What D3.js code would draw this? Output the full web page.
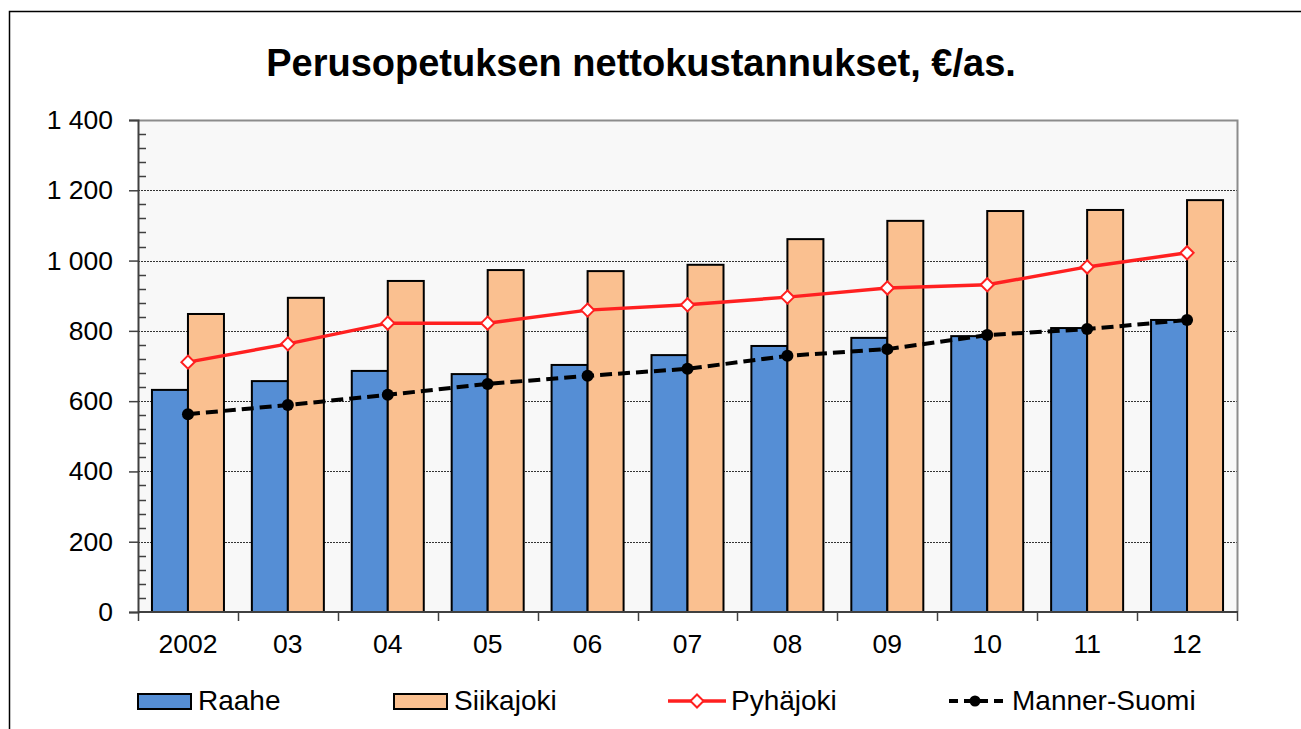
<!DOCTYPE html>
<html>
<head>
<meta charset="utf-8">
<script src="https://cdn.jsdelivr.net/npm/d3@7"></script>
<style>
  body { margin: 0; background: #fff; }
  text { font-family: "Liberation Sans", Arial, sans-serif; fill: #000; }
</style>
</head>
<body>
<script>
// chart data
var years = ["2002", "03", "04", "05", "06", "07", "08", "09", "10", "11", "12"];
var raahe = [632, 657, 686, 677, 703, 731, 757, 780, 785, 808, 831];
var siikajoki = [848, 894, 942, 973, 970, 988, 1061, 1113, 1141, 1144, 1172];
var pyhajoki = [711, 763, 822, 822, 859, 874, 896, 922, 931, 982, 1022];
var mannerSuomi = [563, 589, 618, 649, 672, 692, 729, 748, 788, 805, 831];
var yTicks = [0, 200, 400, 600, 800, 1000, 1200, 1400];

var W = 1301, H = 729;
var pLeft = 138, pRight = 1237, pTop = 120, pBottom = 612;

var svg = d3.select("body").append("svg")
  .attr("width", W).attr("height", H);

// outer frame (only left and top visible)
svg.append("path")
  .attr("d", "M9.5," + H + " V11.5 H" + W)
  .attr("fill", "none").attr("stroke", "#000").attr("stroke-width", 1.5);

// title
svg.append("text")
  .attr("x", 641).attr("y", 76)
  .attr("text-anchor", "middle")
  .style("font-size", "38px").style("font-weight", "bold")
  .text("Perusopetuksen nettokustannukset, €/as.");

var x = d3.scaleBand().domain(years).range([pLeft, pRight]);
var y = d3.scaleLinear().domain([0, 1400]).range([pBottom, pTop]);

// plot background
svg.append("rect")
  .attr("x", pLeft).attr("y", pTop)
  .attr("width", pRight - pLeft).attr("height", pBottom - pTop)
  .attr("fill", "#f8f8f8");

// gridlines
svg.append("g").selectAll("line")
  .data(yTicks.filter(function(d){ return d > 0 && d < 1400; }))
  .enter().append("line")
  .attr("x1", pLeft).attr("x2", pRight)
  .attr("y1", function(d){ return Math.round(y(d)) + 0.5; })
  .attr("y2", function(d){ return Math.round(y(d)) + 0.5; })
  .attr("stroke", "#333").attr("stroke-width", 1)
  .attr("stroke-dasharray", "2,1");

// plot top/right border
svg.append("path")
  .attr("d", "M" + pLeft + "," + (pTop + 0.5) + " H" + (pRight + 0.5) + " V" + pBottom)
  .attr("fill", "none").attr("stroke", "#8c8c8c").attr("stroke-width", 2);

// bars
var barW = 36;
var groups = svg.append("g");
groups.selectAll(".raahe").data(raahe).enter().append("rect")
  .attr("class", "raahe")
  .attr("x", function(d, i){ return x(years[i]) + x.bandwidth()/2 - barW; })
  .attr("y", function(d){ return y(d); })
  .attr("width", barW)
  .attr("height", function(d){ return pBottom - y(d); })
  .attr("fill", "#558ed5").attr("stroke", "#000").attr("stroke-width", 2);

groups.selectAll(".siika").data(siikajoki).enter().append("rect")
  .attr("class", "siika")
  .attr("x", function(d, i){ return x(years[i]) + x.bandwidth()/2; })
  .attr("y", function(d){ return y(d); })
  .attr("width", barW)
  .attr("height", function(d){ return pBottom - y(d); })
  .attr("fill", "#fac090").attr("stroke", "#000").attr("stroke-width", 2);

// y axis
var yAxis = svg.append("g")
  .attr("transform", "translate(" + pLeft + ",0)")
  .call(d3.axisLeft(y).tickValues(yTicks).tickSize(9).tickPadding(16)
    .tickFormat(function(d){ return d3.format(",")(d).replace(",", " "); }));
yAxis.select(".domain").attr("stroke", "#404040").attr("stroke-width", 2);
yAxis.selectAll(".tick line").attr("stroke", "#404040").attr("stroke-width", 1.5);
yAxis.selectAll("text")
  .style("font-size", "26.5px").style("font-family", "Liberation Sans, Arial, sans-serif")
  .attr("fill", "#000");

// minor ticks
var minor = d3.range(0, 1401, 40).filter(function(d){ return d % 200 !== 0; });
svg.append("g").selectAll("line").data(minor).enter().append("line")
  .attr("x1", pLeft).attr("x2", pLeft + 8)
  .attr("y1", function(d){ return Math.round(y(d)) + 0.5; })
  .attr("y2", function(d){ return Math.round(y(d)) + 0.5; })
  .attr("stroke", "#404040").attr("stroke-width", 1.5);

// x axis
var boundaries = years.map(function(d){ return x(d); }).concat([pRight]);
svg.append("line")
  .attr("x1", pLeft).attr("x2", pRight + 1)
  .attr("y1", pBottom).attr("y2", pBottom)
  .attr("stroke", "#404040").attr("stroke-width", 2);
svg.append("g").selectAll("line").data(boundaries).enter().append("line")
  .attr("x1", function(d){ return Math.round(d) + 0.5; })
  .attr("x2", function(d){ return Math.round(d) + 0.5; })
  .attr("y1", pBottom).attr("y2", pBottom + 9)
  .attr("stroke", "#404040").attr("stroke-width", 1.5);
svg.append("g").selectAll("text").data(years).enter().append("text")
  .attr("x", function(d){ return x(d) + x.bandwidth()/2; })
  .attr("y", 653)
  .attr("text-anchor", "middle")
  .style("font-size", "26.5px")
  .text(function(d){ return d; });

// lines
var cx = function(d, i){ return x(years[i]) + x.bandwidth()/2; };
var line = d3.line().x(cx).y(function(d){ return y(d); });

svg.append("path").datum(mannerSuomi)
  .attr("d", line).attr("fill", "none")
  .attr("stroke", "#000").attr("stroke-width", 4)
  .attr("stroke-dasharray", "12,6");
svg.append("g").selectAll("circle").data(mannerSuomi).enter().append("circle")
  .attr("cx", cx).attr("cy", function(d){ return y(d); })
  .attr("r", 6).attr("fill", "#000");

svg.append("path").datum(pyhajoki)
  .attr("d", line).attr("fill", "none")
  .attr("stroke", "#ff2020").attr("stroke-width", 3.5);
var diamond = d3.symbol().type(d3.symbolDiamond2).size(110);
svg.append("g").selectAll("path").data(pyhajoki).enter().append("path")
  .attr("d", diamond)
  .attr("transform", function(d, i){ return "translate(" + cx(d, i) + "," + y(d) + ")"; })
  .attr("fill", "#fff").attr("stroke", "#ff2020").attr("stroke-width", 2);

// legend
var ly = 701;
var leg = svg.append("g");
leg.append("rect").attr("x", 138).attr("y", ly - 7).attr("width", 53).attr("height", 15)
  .attr("fill", "#558ed5").attr("stroke", "#000").attr("stroke-width", 2);
leg.append("text").attr("x", 198).attr("y", ly + 9).style("font-size", "28px").text("Raahe");

leg.append("rect").attr("x", 394).attr("y", ly - 7).attr("width", 53).attr("height", 15)
  .attr("fill", "#fac090").attr("stroke", "#000").attr("stroke-width", 2);
leg.append("text").attr("x", 454).attr("y", ly + 9).style("font-size", "28px").text("Siikajoki");

leg.append("line").attr("x1", 668).attr("x2", 726).attr("y1", ly).attr("y2", ly)
  .attr("stroke", "#ff2020").attr("stroke-width", 3.5);
leg.append("path").attr("d", diamond)
  .attr("transform", "translate(697," + ly + ")")
  .attr("fill", "#fff").attr("stroke", "#ff2020").attr("stroke-width", 2);
leg.append("text").attr("x", 731).attr("y", ly + 9).style("font-size", "28px").text("Pyhäjoki");

leg.append("line").attr("x1", 949).attr("x2", 1005).attr("y1", ly).attr("y2", ly)
  .attr("stroke", "#000").attr("stroke-width", 4).attr("stroke-dasharray", "9,6");
leg.append("circle").attr("cx", 975).attr("cy", ly).attr("r", 5.5).attr("fill", "#000");
leg.append("text").attr("x", 1012).attr("y", ly + 9).style("font-size", "28px").text("Manner-Suomi");
</script>
</body>
</html>
